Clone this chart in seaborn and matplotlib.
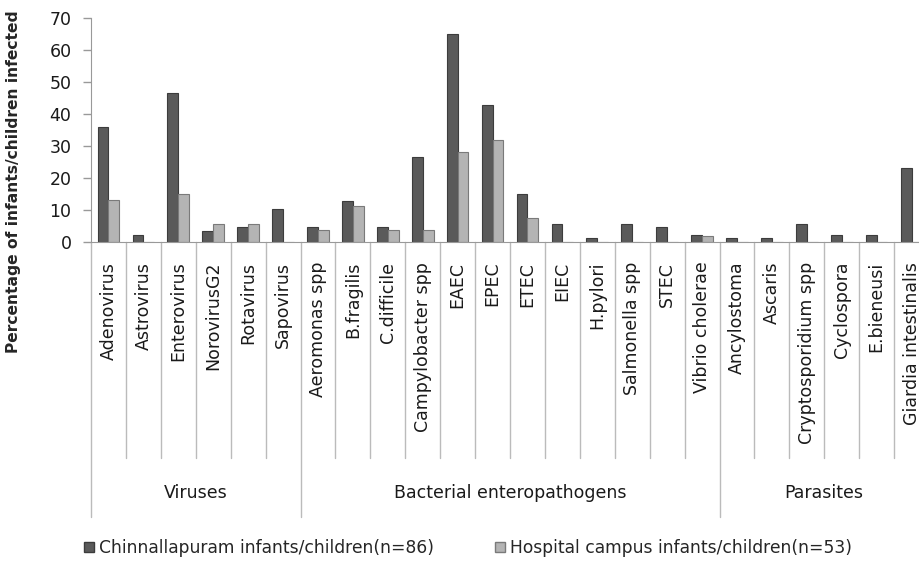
import matplotlib
matplotlib.use("Agg")
import matplotlib.pyplot as plt
import matplotlib.patches as mpatches
import matplotlib.transforms as mtransforms
import seaborn as sns
import pandas as pd

groups = ["Viruses", "Bacterial enteropathogens", "Parasites"]
group_sizes = [6, 12, 6]
pathogens = ["Adenovirus", "Astrovirus", "Enterovirus", "NorovirusG2", "Rotavirus", "Sapovirus",
             "Aeromonas spp", "B.fragilis", "C.difficile", "Campylobacter spp", "EAEC", "EPEC",
             "ETEC", "EIEC", "H.pylori", "Salmonella spp", "STEC", "Vibrio cholerae",
             "Ancylostoma", "Ascaris", "Cryptosporidium spp", "Cyclospora", "E.bieneusi",
             "Giardia intestinalis"]
chinnallapuram = [36.0, 2.3, 46.5, 3.5, 4.7, 10.5,
                  4.7, 12.8, 4.7, 26.7, 65.1, 43.0,
                  15.1, 5.8, 1.2, 5.8, 4.7, 2.3,
                  1.2, 1.2, 5.8, 2.3, 2.3, 23.3]
hospital = [13.2, 0, 15.1, 5.7, 5.7, 0,
            3.8, 11.3, 3.8, 3.8, 28.3, 32.1,
            7.5, 0, 0, 0, 0, 1.9,
            0, 0, 0, 0, 0, 0]
series_names = ["Chinnallapuram infants/children(n=86)", "Hospital campus infants/children(n=53)"]
colors = ["#5a5a5a", "#b4b4b4"]
edges = ["#3c3c3c", "#7a7a7a"]
yticks = [0, 10, 20, 30, 40, 50, 60, 70]

df = pd.DataFrame({
    "pathogen": pathogens * 2,
    "value": chinnallapuram + hospital,
    "series": [series_names[0]] * len(pathogens) + [series_names[1]] * len(pathogens),
})

sns.set_style("white")
plt.rcParams["font.family"] = ["DejaVu Sans"]

fig = plt.figure(figsize=(9.19, 5.61), dpi=100)
ax = fig.add_axes([91 / 919, (561 - 242.3) / 561, (929 - 91) / 919, 224 / 561])

sns.barplot(data=df, x="pathogen", y="value", hue="series", order=pathogens,
            hue_order=series_names, palette=colors, width=0.62, ax=ax,
            legend=False, saturation=1)
for ci, cont in enumerate(ax.containers):
    for p in cont.patches:
        p.set_edgecolor(edges[ci])
        p.set_linewidth(0.8)

ax.set_xlim(-0.5, len(pathogens) - 0.5)
ax.set_ylim(0, 70)
ax.set_yticks(yticks)
ax.set_yticklabels([str(t) for t in yticks], fontsize=12.5, color="#1a1a1a")
ax.tick_params(axis="y", length=6, color="#999999", width=1, pad=8, left=True)
ax.set_xticks(range(len(pathogens)))
ax.set_xticklabels(pathogens, rotation=90, fontsize=12.5, color="#1a1a1a", va="top")
ax.tick_params(axis="x", length=0, pad=14)
ax.set_xlabel("")
ax.set_ylabel("Percentage of infants/children infected", fontsize=11.2, fontweight="bold")
ax.yaxis.set_label_coords(-0.083, 0.27)
for s in ["top", "right"]:
    ax.spines[s].set_visible(False)
ax.spines["left"].set_color("#999999")
ax.spines["bottom"].set_color("#999999")

trans = mtransforms.blended_transform_factory(ax.transData, ax.transAxes)
short_y = (242.3 - 458) / 224
long_y = (242.3 - 517) / 224
label_y = (242.3 - 493) / 224
boundaries = [0]
acc = 0
for g in group_sizes:
    acc += g
    boundaries.append(acc)
for i in range(len(pathogens) + 1):
    x = i - 0.5
    y_end = long_y if i in boundaries else short_y
    ax.plot([x, x], [0, y_end], transform=trans, color="#bbbbbb", lw=1, clip_on=False)
start = 0
for g, n in zip(groups, group_sizes):
    ax.text(start + n / 2 - 0.5, label_y, g, transform=trans, ha="center", va="center",
            fontsize=12.5, color="#1a1a1a")
    start += n

handles = [mpatches.Patch(facecolor=colors[i], edgecolor=edges[i], label=series_names[i])
           for i in range(2)]
fig.legend(handles=handles, loc="center", bbox_to_anchor=(468 / 919, 1 - 548 / 561), ncol=2,
           frameon=False, prop={"size": 12.3}, handlelength=0.6,
           handleheight=0.6, handletextpad=0.25, columnspacing=3.6)

fig.savefig("out.png", dpi=100)
